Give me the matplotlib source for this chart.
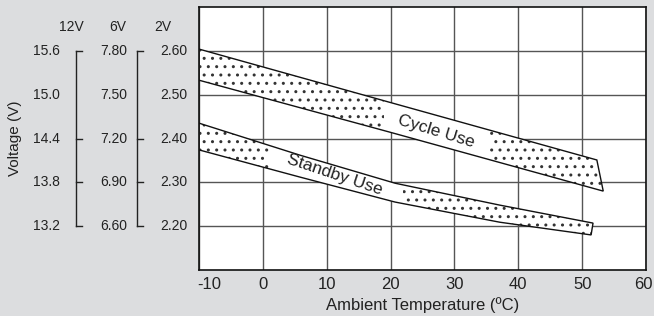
import matplotlib
matplotlib.use("Agg")
import matplotlib.pyplot as plt
import numpy as np
from matplotlib.patches import Polygon, Rectangle
from matplotlib.transforms import blended_transform_factory, ScaledTranslation

plt.rcParams['font.family'] = ['Liberation Sans', 'DejaVu Sans']
plt.rcParams['hatch.linewidth'] = 1.0

# temperature ticks
temps = [-10, 0, 10, 20, 30, 40, 50, 60]
temp_labels = ['-10', '0', '10', '20', '30', '40', '50', '60']

# voltage scales (per cell 2V, and 6V / 12V equivalents)
cell_v = [2.60, 2.50, 2.40, 2.30, 2.20]
v6_labels = ['7.80', '7.50', '7.20', '6.90', '6.60']
v12_labels = ['15.6', '15.0', '14.4', '13.8', '13.2']
cell_labels = ['2.60', '2.50', '2.40', '2.30', '2.20']
bracket_ticks = [2.60, 2.40, 2.30, 2.20]

# cycle use band
cyc_up_t = [-10, 20, 52.3]
cyc_up_v = [2.604, 2.482, 2.351]
cyc_lo_t = [-10, 20, 53.3]
cyc_lo_v = [2.533, 2.414, 2.280]

# standby use band
sb_up_t = [-10, 5.8, 20.7, 37.1, 51.7]
sb_up_v = [2.435, 2.362, 2.298, 2.248, 2.207]
sb_lo_t = [-10, 5.8, 20.7, 37.1, 51.4]
sb_lo_v = [2.374, 2.312, 2.255, 2.209, 2.180]

bg = '#dcdddf'
fig = plt.figure(figsize=(6.54, 3.16), dpi=100, facecolor=bg)
ax = fig.add_axes([0.3043, 0.1456, 0.6835, 0.8322])
ax.set_facecolor('white')
ax.set_xlim(-10, 60)
ax.set_ylim(2.10, 2.70)

for t in temps:
    ax.axvline(t, color='#555555', lw=1.0, zorder=1)
for v in [2.20, 2.30, 2.40, 2.50, 2.60]:
    ax.axhline(v, color='#555555', lw=1.0, zorder=1)

ax.set_xticks(temps)
ax.set_xticklabels(temp_labels, fontsize=12, color='#222222')
ax.set_yticks([])
ax.tick_params(axis='x', length=0, pad=5)
# nudge the end labels like the original
labs = ax.get_xticklabels()
labs[0].set_transform(labs[0].get_transform() + ScaledTranslation(0.10, 0, fig.dpi_scale_trans))
labs[-1].set_transform(labs[-1].get_transform() + ScaledTranslation(-0.03, 0, fig.dpi_scale_trans))
for s in ax.spines.values():
    s.set_linewidth(1.2)
    s.set_color('#111111')
ax.set_xlabel('Ambient Temperature (ºC)', fontsize=12, color='#222222', labelpad=4)


def band(ut, uv, lt, lv, dot_ranges):
    pts = list(zip(ut, uv)) + list(zip(lt[::-1], lv[::-1]))
    white = Polygon(pts, closed=True, facecolor='white', edgecolor='none', zorder=2)
    ax.add_patch(white)
    for x0, x1 in dot_ranges:
        p = Polygon(pts, closed=True, facecolor='none', edgecolor='#333333',
                    lw=0, hatch='..', zorder=3)
        ax.add_patch(p)
        clip = Rectangle((x0, 2.0), x1 - x0, 1.0, transform=ax.transData)
        p.set_clip_path(clip)
    outline = Polygon(pts, closed=True, facecolor='none', edgecolor='#111111',
                      lw=1.0, zorder=4)
    ax.add_patch(outline)


band(cyc_up_t, cyc_up_v, cyc_lo_t, cyc_lo_v, [(-10, 19), (35.5, 60)])
band(sb_up_t, sb_up_v, sb_lo_t, sb_lo_v, [(-10, 1), (22, 60)])

ax.text(27.2, 2.416, 'Cycle Use', fontsize=12.5, rotation=-17, ha='center',
        va='center', color='#222222', zorder=5)
ax.text(11.3, 2.318, 'Standby Use', fontsize=12.5, rotation=-18.5, ha='center',
        va='center', color='#222222', zorder=5)

# left-hand voltage scales
tr = blended_transform_factory(fig.transFigure, ax.transData)
W = 654.0
for v, a, b, c in zip(cell_v, v12_labels, v6_labels, cell_labels):
    fig.text(60 / W, v, a, transform=tr, ha='right', va='center', fontsize=10, color='#222222')
    fig.text(127 / W, v, b, transform=tr, ha='right', va='center', fontsize=10, color='#222222')
    fig.text(187 / W, v, c, transform=tr, ha='right', va='center', fontsize=10, color='#222222')

for hx, lab in [(71, '12V'), (118, '6V'), (163, '2V')]:
    fig.text(hx / W, 2.654, lab, transform=tr, ha='center', va='center', fontsize=10, color='#222222')

for bx in [76, 137]:
    fig.add_artist(plt.Line2D([bx / W, bx / W], [cell_v[0], cell_v[-1]], transform=tr,
                              color='#222222', lw=1.0))
    for v in bracket_ticks:
        fig.add_artist(plt.Line2D([bx / W, (bx + 6) / W], [v, v], transform=tr,
                                  color='#222222', lw=1.0))

fig.text(15 / W, 2.40, 'Voltage (V)', transform=tr, rotation=90, ha='center',
         va='center', fontsize=11, color='#222222')

fig.savefig('out.png', dpi=100, facecolor=bg)
